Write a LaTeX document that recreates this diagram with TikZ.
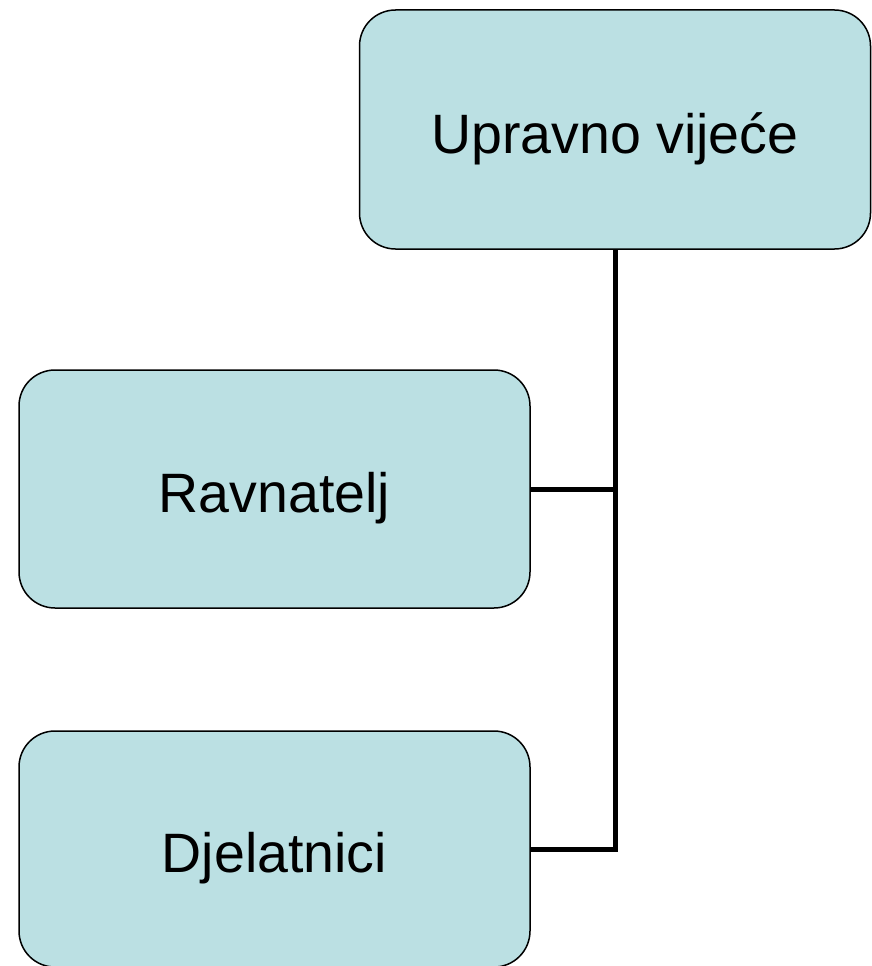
\documentclass[tikz,border=0pt]{standalone}
\usepackage{fontspec}
\setmainfont{Liberation Sans}
\definecolor{boxfill}{RGB}{187,224,227}
\begin{document}
\begin{tikzpicture}[x=1pt,y=-1pt,
  orgbox/.style={draw=black, line width=1.5pt, fill=boxfill, rounded corners=36pt,
    minimum width=511pt, inner sep=0pt, text height=47pt, text depth=0pt,
    font=\fontsize{55.5}{60}\selectfont},
  link/.style={draw=black, line width=5pt, line join=miter}]
\useasboundingbox (0,0) rectangle (872,966);
\node[orgbox, minimum height=239pt] (top) at (615,129.5) {Upravno vijeće};
\node[orgbox, minimum height=238pt] (rav) at (274.5,489) {Ravnatelj};
\node[orgbox, minimum height=236pt] (dj) at (274.5,849) {Djelatnici};
\draw[link] (top.south) |- (rav.east);
\draw[link] (top.south) |- (dj.east);
\end{tikzpicture}
\end{document}
